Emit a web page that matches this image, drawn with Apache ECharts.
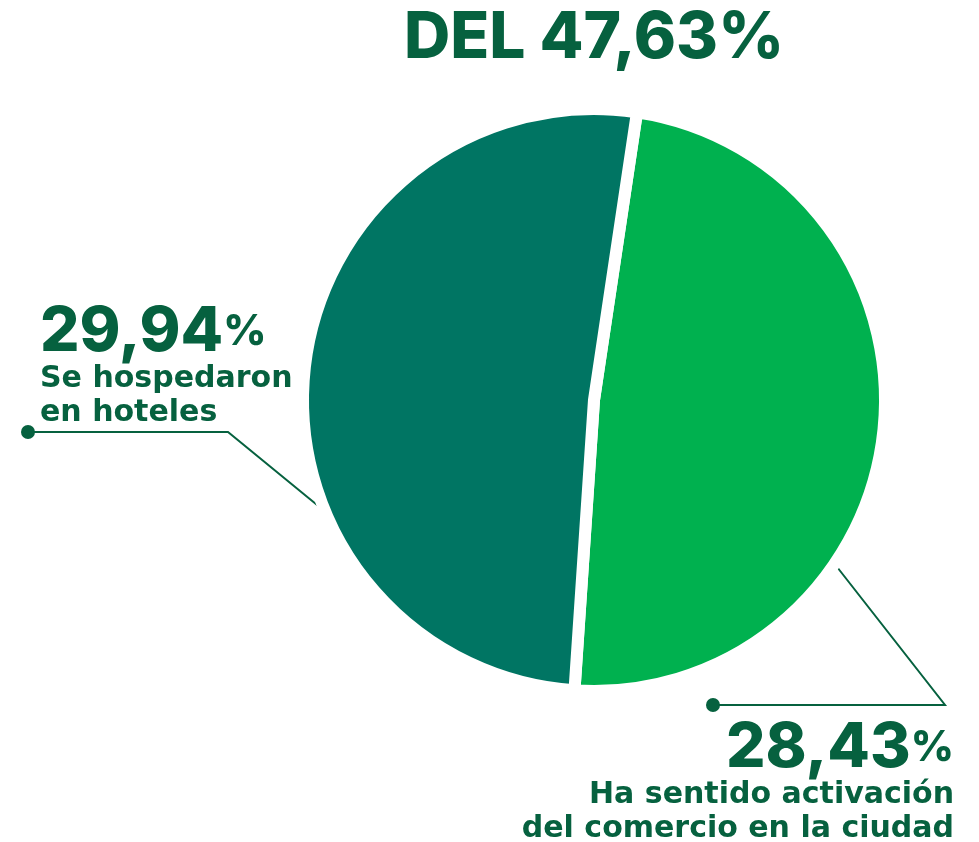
<!DOCTYPE html>
<html><head><meta charset="utf-8">
<script src="https://cdn.jsdelivr.net/npm/echarts@6/dist/echarts.min.js"></script>
<style>html,body{margin:0;padding:0;background:#fff}#c{width:979px;height:842px}</style>
</head><body><div id="c"></div>
<script>
const categories = ['Ha sentido activación del comercio en la ciudad', 'Se hospedaron en hoteles'];
const values = [28.43, 29.94];
const valueLabels = ['28,43', '29,94'];
const descLines = [['Ha sentido activación', 'del comercio en la ciudad'], ['Se hospedaron', 'en hoteles']];
const totalLabel = 'DEL 47,63%';

const TXT = '#06613F';
const FONT = 'Inter';
const FONT2 = 'DejaVu Sans';
const colors = ['#00B14F', '#007563'];

const chart = echarts.init(document.getElementById('c'), null, {renderer: 'canvas'});

const layouts = [
  {x: 954, y: 718, align: 'right', pts: [[830, 558], [945, 705], [713, 705]]},
  {x: 40, y: 302, align: 'left', pts: [[333, 518], [228, 432], [28, 432]]}
];

chart.setOption({
  animation: false,
  title: {
    text: totalLabel, left: 589, top: 2, textAlign: 'center',
    textStyle: {color: TXT, fontFamily: FONT, fontWeight: 800, fontSize: 64}
  },
  graphic: [
    {type: 'circle', shape: {cx: 28, cy: 432, r: 7}, style: {fill: TXT}, z: 100},
    {type: 'circle', shape: {cx: 713, cy: 705, r: 7}, style: {fill: TXT}, z: 100}
  ],
  series: [{
    type: 'pie',
    center: [594, 400],
    radius: 291,
    startAngle: 81.5,
    clockwise: true,
    data: categories.map((n, i) => ({name: n, value: values[i], itemStyle: {color: colors[i]}})),
    itemStyle: {borderColor: '#fff', borderWidth: 12},
    emphasis: {disabled: true},
    label: {
      show: true,
      color: TXT,
      fontFamily: FONT,
      overflow: 'none',
      width: 600,
      formatter: p => '{v|' + valueLabels[p.dataIndex] + '}{p|%}\n' +
        descLines[p.dataIndex].map(s => '{t|' + s + '}').join('\n'),
      rich: {
        v: {fontFamily: FONT, fontWeight: 800, fontSize: 62, color: TXT, lineHeight: 60},
        p: {fontFamily: FONT, fontWeight: 800, fontSize: 42, color: TXT, lineHeight: 60},
        t: {fontFamily: FONT2, fontWeight: 'bold', fontSize: 30, color: TXT, lineHeight: 34}
      }
    },
    labelLine: {show: true, lineStyle: {color: TXT, width: 2}},
    labelLayout: params => {
      const L = layouts[params.dataIndex];
      return {x: L.x, y: L.y, align: L.align, verticalAlign: 'top', labelLinePoints: L.pts};
    }
  }]
});
</script></body></html>
